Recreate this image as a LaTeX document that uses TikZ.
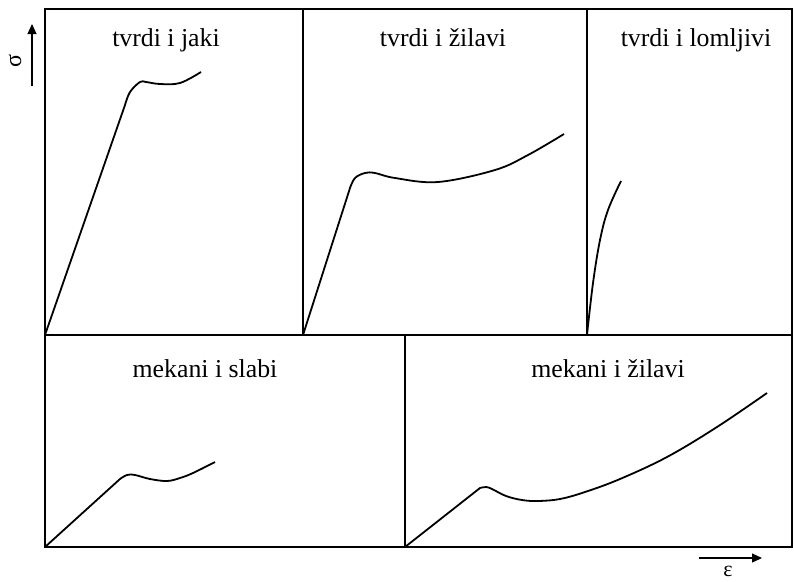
\documentclass[tikz,border=0pt]{standalone}
\usepackage{fontspec}
\setmainfont{Liberation Serif}
\usepackage{tikz}
\usetikzlibrary{arrows.meta}

\tikzset{
	frame/.style={line width=2pt},
	curve/.style={line width=1.8pt,line join=round},
	ttl/.style={font=\fontsize{25.8}{30}\selectfont,anchor=base},
	axis/.style={line width=1.2pt,-{Triangle[length=10pt,width=9pt]}}
}

\begin{document}
\begin{tikzpicture}[x=1pt,y=-1pt]
			\useasboundingbox (0,0) rectangle (794,581);
			% okviri
			\draw [frame] (45,9) rectangle (792,547);
			\draw [frame] (45,335) -- (792,335);
			\draw [frame] (303,9) -- (303,335);
			\draw [frame] (587,9) -- (587,335);
			\draw [frame] (405,335) -- (405,547);
			% naslovi
			\node [ttl] (jaki) at (166,46) {tvrdi i jaki};
			\node [ttl] (zilavi) at (443,46) {tvrdi i žilavi};
			\node [ttl] (lomljivi) at (696,46) {tvrdi i lomljivi};
			\node [ttl] (slabi) at (205,377) {mekani i slabi};
			\node [ttl] (mzilavi) at (608,377) {mekani i žilavi};
			% krivulje
			\draw [curve] (45,335) -- plot [smooth,tension=0.6] coordinates {(125,105) (130,92) (140,82) (146,82) (160,84) (180,83) (201,72)};
			\draw [curve] (303,335) -- plot [smooth,tension=0.6] coordinates {(350,188) (355,178) (365,173) (375,173) (395,178) (438,182) (495,170) (528,155) (564,134)};
			\draw [curve] plot [smooth,tension=0.6] coordinates {(587,335) (593,283) (600,240) (608,210) (621,181)};
			\draw [curve] (45,547) -- plot [smooth,tension=0.6] coordinates {(120,479) (127,475) (135,475) (150,479) (167,481) (180,478) (193,473) (215,462)};
			\draw [curve] (405,547) -- plot [smooth,tension=0.6] coordinates {(480,488) (486,487) (492,489) (506,496) (522,500) (538,501) (560,499) (585,492) (620,479) (667,457) (717,427) (767,393)};
			% osi
			\coordinate (s0) at (32,86);
			\coordinate (s1) at (32,24);
			\draw [axis] (s0) -- (s1);
			\node [rotate=90,font=\fontsize{24}{26}\selectfont] (sigma) at (15,61) {σ};
			\coordinate (e0) at (699,558);
			\coordinate (e1) at (762,558);
			\draw [axis] (e0) -- (e1);
			\node [font=\fontsize{22}{24}\selectfont,inner sep=0pt] (eps) at (728,571) {ε};
\end{tikzpicture}
\end{document}
